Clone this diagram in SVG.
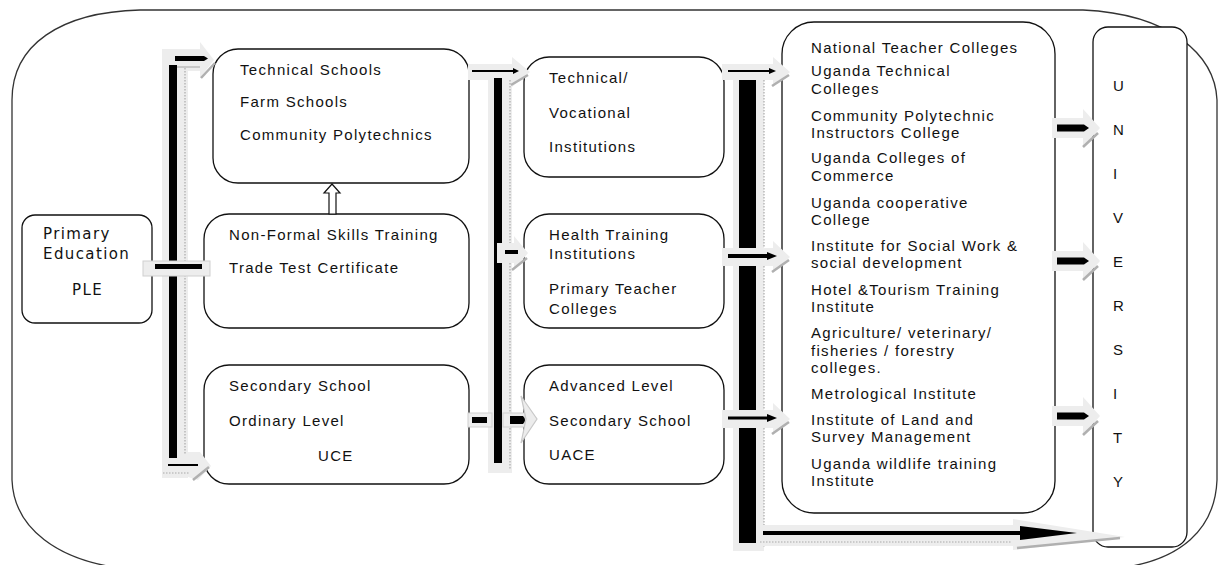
<svg xmlns="http://www.w3.org/2000/svg" width="1219" height="565" viewBox="0 0 1219 565">
<defs>
<style>
.box{fill:#fff;stroke:#111;stroke-width:1.3}
.outer{fill:none;stroke:#333;stroke-width:1.3}
.t{font-family:"Liberation Sans",Arial,sans-serif;font-size:15px;letter-spacing:1.3px;fill:#111}
.p{font-family:"DejaVu Sans",Verdana,sans-serif;font-size:15px;letter-spacing:1.4px;fill:#111}
.u{font-family:"Liberation Sans",Arial,sans-serif;font-size:15px;fill:#111}
.sh{fill:#ededed;stroke:none}
.shb{fill:#ededed;stroke:#cfcfcf;stroke-width:1}
.blk{fill:#000;stroke:none}
.edge{stroke:#b0b0b0;stroke-width:2.5;fill:none}
.dot{stroke:#aaa;stroke-width:1.2;stroke-dasharray:1.5 1.5;fill:none}
.hollow{fill:#fff;stroke:#111;stroke-width:1.2}
</style>
</defs>
<rect width="1219" height="565" fill="#fff"/>
<path class="outer" d="M12,480 L12,100 C12,45 60,12 140,10 L1083,10 C1170,14 1215,55 1217,100 L1217,480 C1215,530 1180,560 1120,568 L120,568 C60,560 14,530 12,480 Z"/>

<g id="node-primary">
<rect class="box" x="22" y="215" width="130" height="108" rx="13"/>
<text class="p" x="43" y="239">Primary</text>
<text class="p" x="43" y="259">Education</text>
<text class="p" x="72" y="295">PLE</text>
</g>

<g id="node-technical-schools">
<rect class="box" x="213" y="49" width="256" height="134" rx="25"/>
<text class="t" x="240" y="75">Technical Schools</text>
<text class="t" x="240" y="107">Farm Schools</text>
<text class="t" x="240" y="140">Community Polytechnics</text>
</g>

<g id="node-nonformal">
<rect class="box" x="204" y="214" width="265" height="114" rx="25"/>
<text class="t" x="229" y="240">Non-Formal Skills Training</text>
<text class="t" x="229" y="273">Trade Test Certificate</text>
</g>

<g id="node-secondary">
<rect class="box" x="204" y="365" width="265" height="119" rx="25"/>
<text class="t" x="229" y="391">Secondary School</text>
<text class="t" x="229" y="426">Ordinary Level</text>
<text class="t" x="318" y="461">UCE</text>
</g>

<g id="node-tech-voc">
<rect class="box" x="524" y="57" width="200" height="120" rx="25"/>
<text class="t" x="549" y="83">Technical/</text>
<text class="t" x="549" y="118">Vocational</text>
<text class="t" x="549" y="152">Institutions</text>
</g>

<g id="node-health">
<rect class="box" x="524" y="214" width="200" height="114" rx="25"/>
<text class="t" x="549" y="240">Health Training</text>
<text class="t" x="549" y="259">Institutions</text>
<text class="t" x="549" y="294">Primary Teacher</text>
<text class="t" x="549" y="314">Colleges</text>
</g>

<g id="node-advanced">
<rect class="box" x="524" y="365" width="200" height="119" rx="25"/>
<text class="t" x="549" y="391">Advanced Level</text>
<text class="t" x="549" y="426">Secondary School</text>
<text class="t" x="549" y="460">UACE</text>
</g>

<g id="node-tertiary">
<rect class="box" x="782" y="22" width="273" height="491" rx="32"/>
<text class="t" x="811" y="53">National Teacher Colleges</text>
<text class="t" x="811" y="76">Uganda Technical</text>
<text class="t" x="811" y="94">Colleges</text>
<text class="t" x="811" y="121">Community Polytechnic</text>
<text class="t" x="811" y="138">Instructors College</text>
<text class="t" x="811" y="163">Uganda Colleges of</text>
<text class="t" x="811" y="181">Commerce</text>
<text class="t" x="811" y="208">Uganda cooperative</text>
<text class="t" x="811" y="225">College</text>
<text class="t" x="811" y="251">Institute for Social Work &amp;</text>
<text class="t" x="811" y="268">social development</text>
<text class="t" x="811" y="295">Hotel &amp;Tourism Training</text>
<text class="t" x="811" y="312">Institute</text>
<text class="t" x="811" y="338">Agriculture/ veterinary/</text>
<text class="t" x="811" y="356">fisheries / forestry</text>
<text class="t" x="811" y="373">colleges.</text>
<text class="t" x="811" y="399">Metrological Institute</text>
<text class="t" x="811" y="425">Institute of Land and</text>
<text class="t" x="811" y="442">Survey Management</text>
<text class="t" x="811" y="469">Uganda wildlife training</text>
<text class="t" x="811" y="486">Institute</text>
</g>

<g id="node-university">
<rect class="box" x="1093" y="27" width="94" height="520" rx="15"/>
<text class="u" x="1113" y="91">U</text>
<text class="u" x="1113" y="135">N</text>
<text class="u" x="1113" y="179">I</text>
<text class="u" x="1113" y="223">V</text>
<text class="u" x="1113" y="267">E</text>
<text class="u" x="1113" y="311">R</text>
<text class="u" x="1113" y="355">S</text>
<text class="u" x="1113" y="399">I</text>
<text class="u" x="1113" y="443">T</text>
<text class="u" x="1113" y="487">Y</text>
</g>

<g id="connectors">
<polygon class="hollow" points="329,214 329,193 324,193 332,184 340,193 336,193 336,214"/>

<rect class="sh" x="162" y="49" width="26" height="429"/>
<polygon class="sh" points="162,49 200,49 200,42 214,60 200,78 200,71 162,71"/>
<rect class="blk" x="169" y="65" width="8" height="393"/>
<line x1="177" y1="67" x2="200" y2="67" stroke="#bbb" stroke-width="1.5"/>
<line class="dot" x1="185" y1="68" x2="185" y2="455"/>
<polygon class="blk" points="175,56 204,56 208,58.5 204,61 175,61"/>
<line class="edge" x1="201" y1="78" x2="215" y2="63"/>
<polygon class="sh" points="188,452 200,452 211,466 198,480 188,477"/>
<line x1="168" y1="465" x2="198" y2="465" stroke="#000" stroke-width="2"/>
<line class="dot" x1="163" y1="473" x2="190" y2="473" stroke-width="2"/>
<line class="edge" x1="193" y1="480" x2="209" y2="467"/>
<rect class="shb" x="143" y="261" width="67" height="15"/>
<rect class="blk" x="155" y="264" width="47" height="5"/>

<rect class="sh" x="488" y="72" width="24" height="401"/>
<polygon class="sh" points="468,64 512,64 512,57 530,72 512,87 512,80 468,80"/>
<rect class="blk" x="494" y="78" width="8" height="385"/>
<line class="dot" x1="510" y1="80" x2="510" y2="470"/>
<line x1="472" y1="71" x2="513" y2="71" stroke="#000" stroke-width="2"/>
<polygon class="blk" points="513,68 519,71 513,74"/>
<line class="edge" x1="511" y1="85" x2="528" y2="75"/>
<polygon class="sh" points="497,243 514,243 514,236 528,253 514,270 514,263 497,263"/>
<rect class="blk" x="505" y="250" width="13" height="4"/>
<line class="edge" x1="512" y1="270" x2="527" y2="258"/>
<rect class="shb" x="468" y="413" width="24" height="14"/>
<rect class="blk" x="472" y="417" width="15" height="6"/>
<rect class="shb" x="503" y="413" width="22" height="14"/>
<path class="blk" d="M510,416 L523,416 Q527,420 523,424 L510,424 Z"/>
<polygon points="521,396 537,419 521,443 526,419" fill="#ececec" stroke="#c8c8c8" stroke-width="1.2"/>

<rect class="sh" x="733" y="72" width="31" height="479"/>
<rect class="blk" x="739" y="78" width="17" height="465"/>
<line class="dot" x1="764" y1="80" x2="764" y2="548"/>
<polygon class="sh" points="722,64 773,64 773,57 790,72 773,87 773,80 722,80"/>
<line x1="728" y1="71" x2="770" y2="71" stroke="#000" stroke-width="2"/>
<polygon class="blk" points="769,68 776,71 769,74"/>
<line class="edge" x1="772" y1="86" x2="789" y2="75"/>
<polygon class="sh" points="722,248 773,248 773,241 790,257 773,273 773,266 722,266"/>
<line x1="728" y1="256" x2="768" y2="256" stroke="#000" stroke-width="4"/>
<polygon class="blk" points="767,252 777,256 767,260"/>
<line class="edge" x1="772" y1="272" x2="789" y2="260"/>
<polygon class="sh" points="722,410 773,410 773,403 790,419 773,435 773,428 722,428"/>
<line x1="728" y1="418" x2="768" y2="418" stroke="#000" stroke-width="3"/>
<polygon class="blk" points="767,414 777,418 767,422"/>
<line class="edge" x1="772" y1="434" x2="789" y2="422"/>
<rect class="sh" x="756" y="525" width="260" height="21"/>
<polygon class="sh" points="1013,519 1125,537 1013,550"/>
<rect class="blk" x="763" y="531" width="258" height="4"/>
<polygon class="blk" points="1020,526 1077,533 1020,540"/>
<line class="dot" x1="760" y1="542" x2="1012" y2="542" stroke-width="1.5"/>
<line class="edge" x1="1017" y1="548" x2="1120" y2="538"/>

<polygon class="sh" points="1052,118 1083,118 1083,109 1100,128 1083,147 1083,138 1052,138"/>
<polygon class="blk" points="1057,124.5 1084,124.5 1089,128 1084,131.5 1057,131.5"/>
<line class="edge" x1="1083" y1="147" x2="1098" y2="133"/>
<polygon class="sh" points="1052,251 1083,251 1083,242 1100,261 1083,280 1083,271 1052,271"/>
<polygon class="blk" points="1057,257.5 1084,257.5 1089,261 1084,264.5 1057,264.5"/>
<line class="edge" x1="1083" y1="280" x2="1098" y2="266"/>
<polygon class="sh" points="1052,406 1083,406 1083,397 1100,416 1083,435 1083,426 1052,426"/>
<polygon class="blk" points="1057,412.5 1084,412.5 1089,416 1084,419.5 1057,419.5"/>
<line class="edge" x1="1083" y1="435" x2="1098" y2="421"/>
</g>
</svg>
